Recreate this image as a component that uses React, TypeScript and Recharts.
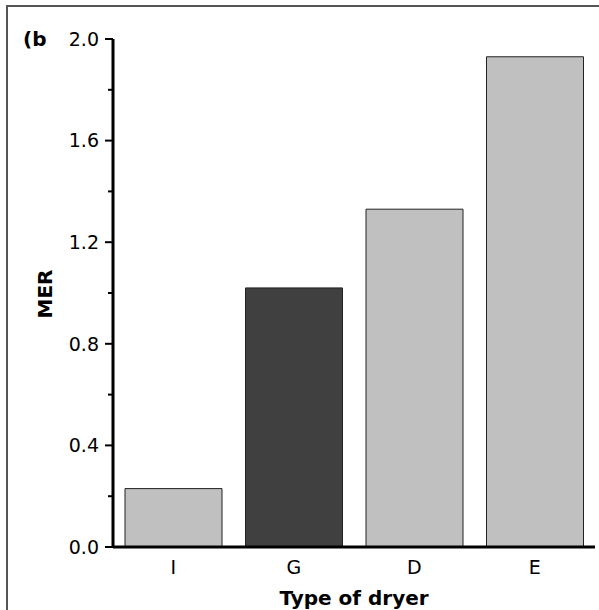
import { Bar, BarChart, Cell, Label, XAxis, YAxis } from "recharts";

const dryers = ["I", "G", "D", "E"];
const mer = [0.23, 1.02, 1.33, 1.93];
const yTicks = [0, 0.2, 0.4, 0.6, 0.8, 1.0, 1.2, 1.4, 1.6, 1.8, 2.0];
const highlighted = "G";

const data = dryers.map((d, i) => ({ dryer: d, mer: mer[i] }));

const FONT = "'DejaVu Sans', Verdana, sans-serif";

function YTick(props: any) {
  const { x, y, payload } = props;
  const v = payload.value as number;
  const major = Math.round(v * 10) % 4 === 0;
  return (
    <g>
      <line x1={x - (major ? 8 : 5)} x2={x} y1={y} y2={y} stroke="#000" strokeWidth={2} />
      {major ? (
        <text x={x - 14} y={y} dy="0.36em" textAnchor="end" fontSize={19} fill="#000" fontFamily={FONT}>
          {v.toFixed(1)}
        </text>
      ) : null}
    </g>
  );
}

function XTick(props: any) {
  const { x, y, payload } = props;
  return (
    <text x={x} y={y + 19} textAnchor="middle" fontSize={19} fill="#000" fontFamily={FONT}>
      {payload.value}
    </text>
  );
}

export default function App() {
  return (
    <div style={{ position: "absolute", left: 0, top: 0, width: 599, height: 610, background: "#fff", overflow: "hidden" }}>
      <div
        style={{
          position: "absolute",
          left: 6,
          top: 5,
          width: 620,
          height: 640,
          borderLeft: "2px solid #555",
          borderTop: "2px solid #555",
        }}
      />
      <div style={{ position: "absolute", left: 0, top: 0 }}>
        <BarChart width={599} height={610} data={data} margin={{ top: 39, right: 4, left: 0, bottom: 0 }}>
          <text x={23} y={46} fontSize={20} fontWeight="bold" fontFamily={FONT} fill="#000">
            (b
          </text>
          <XAxis
            dataKey="dryer"
            height={63}
            tickLine={false}
            axisLine={{ stroke: "#000", strokeWidth: 3 }}
            tick={<XTick />}
            interval={0}
          >
            <Label
              content={(p: any) => (
                <text
                  x={p.viewBox.x + p.viewBox.width / 2}
                  y={p.viewBox.y + 58}
                  textAnchor="middle"
                  fontSize={20}
                  fontWeight="bold"
                  fontFamily={FONT}
                  fill="#000"
                >
                  Type of dryer
                </text>
              )}
            />
          </XAxis>
          <YAxis
            width={113}
            domain={[0, 2]}
            ticks={yTicks}
            interval={0}
            tickSize={0}
            tickMargin={0}
            tickLine={false}
            axisLine={{ stroke: "#000", strokeWidth: 3 }}
            tick={<YTick />}
          >
            <Label
              content={() => (
                <text
                  x={52}
                  y={294}
                  transform="rotate(-90 52 294)"
                  textAnchor="middle"
                  fontSize={20}
                  fontWeight="bold"
                  fontFamily={FONT}
                  fill="#000"
                >
                  MER
                </text>
              )}
            />
          </YAxis>
          <Bar dataKey="mer" barSize={97} stroke="#222" strokeWidth={1} isAnimationActive={false}>
            {data.map((d) => (
              <Cell key={d.dryer} fill={d.dryer === highlighted ? "#404040" : "#c0c0c0"} />
            ))}
          </Bar>
        </BarChart>
      </div>
    </div>
  );
}
